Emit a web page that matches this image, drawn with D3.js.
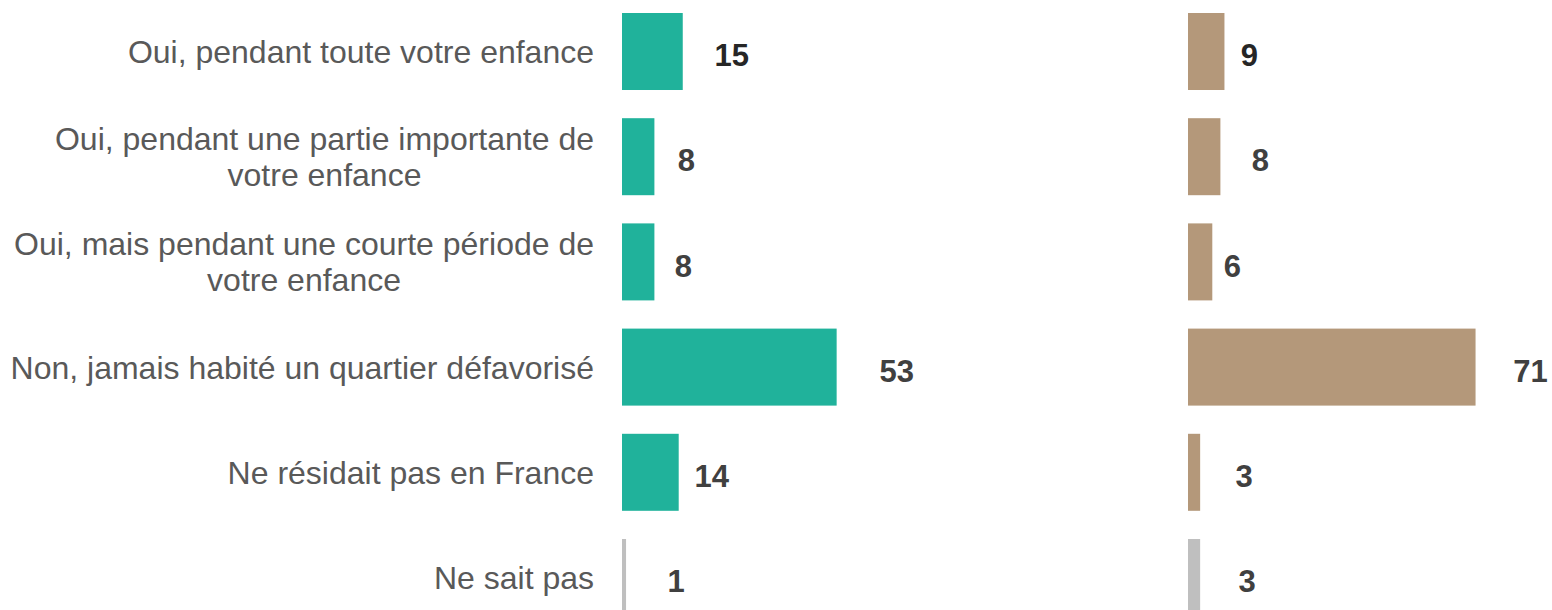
<!DOCTYPE html>
<html>
<head>
<meta charset="utf-8">
<script src="https://cdn.jsdelivr.net/npm/d3@7"></script>
<style>
  html, body { margin: 0; padding: 0; background: #fff; }
  svg { display: block; }
</style>
</head>
<body>
<svg id="chart" width="1552" height="610"></svg>
<script>
// ---- data ----
const categories = [
  "Oui, pendant toute votre enfance",
  "Oui, pendant une partie importante de votre enfance",
  "Oui, mais pendant une courte période de votre enfance",
  "Non, jamais habité un quartier défavorisé",
  "Ne résidait pas en France",
  "Ne sait pas"
];
const categoryLines = [
  ["Oui, pendant toute votre enfance"],
  ["Oui, pendant une partie importante de", "votre enfance"],
  ["Oui, mais pendant une courte période de", "votre enfance"],
  ["Non, jamais habité un quartier défavorisé"],
  ["Ne résidait pas en France"],
  ["Ne sait pas"]
];
const seriesLeft = [15, 8, 8, 53, 14, 1];
const seriesRight = [9, 8, 6, 71, 3, 3];

// label placement nudges (layout only): distance from bar end to label centre
const labelGapLeft = [49, 32, 29, 60, 33, 50];
const labelGapRight = [25, 40, 20, 55, 44, 47];

// ---- layout ----
const svg = d3.select("#chart");
const pxPerUnit = 4.05;
const leftX0 = 622, rightX0 = 1188;

const y = d3.scaleBand()
  .domain(categories)
  .range([13, 616])
  .paddingInner(0.268)
  .paddingOuter(0);

const xL = d3.scaleLinear().domain([0, 100]).range([leftX0, leftX0 + 100 * pxPerUnit]);
const xR = d3.scaleLinear().domain([0, 100]).range([rightX0, rightX0 + 100 * pxPerUnit]);

const teal = "#20B29B", tan = "#B4987A", grey = "#BFBFBF";
const lastCat = categories[categories.length - 1];

// category labels: block right-aligned at 594, lines centred within block
const lab = svg.append("g");
const labelRight = 594;
categories.forEach((c, i) => {
  const lines = categoryLines[i];
  const cy = y(c) + y.bandwidth() / 2;
  const lh = 36;
  const texts = lines.map((ln, j) => lab.append("text")
    .attr("font-family", "Liberation Sans, Arial, sans-serif")
    .attr("font-size", 32)
    .attr("fill", "#595959")
    .attr("text-anchor", "middle")
    .attr("y", cy + (j - (lines.length - 1) / 2) * lh)
    .attr("dy", "0.36em")
    .text(ln));
  const widths = texts.map(t => t.node().getComputedTextLength());
  const maxW = d3.max(widths);
  texts.forEach(t => t.attr("x", labelRight - maxW / 2));
});

function panel(x, vals, gaps, color) {
  const g = svg.append("g");
  g.selectAll("rect").data(vals).join("rect")
    .attr("x", x(0))
    .attr("y", (d, i) => y(categories[i]))
    .attr("width", d => x(d) - x(0))
    .attr("height", y.bandwidth())
    .attr("fill", (d, i) => categories[i] === lastCat ? grey : color);
  g.selectAll("text").data(vals).join("text")
    .attr("x", (d, i) => x(d) + gaps[i])
    .attr("y", (d, i) => y(categories[i]) + y.bandwidth() / 2 + 3.5)
    .attr("dy", "0.36em")
    .attr("text-anchor", "middle")
    .attr("font-family", "Liberation Sans, Arial, sans-serif")
    .attr("font-weight", "bold")
    .attr("font-size", 31)
    .attr("fill", (d, i) => i === 0 ? "#262626" : "#404040")
    .text(d => d);
}
panel(xL, seriesLeft, labelGapLeft, teal);
panel(xR, seriesRight, labelGapRight, tan);
</script>
</body>
</html>
